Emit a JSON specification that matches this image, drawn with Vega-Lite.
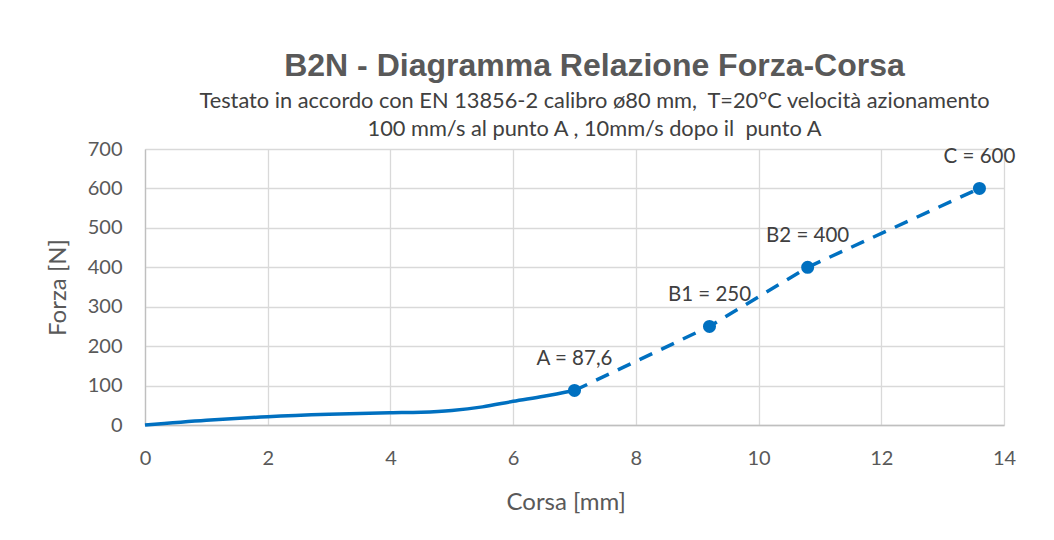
{
  "$schema": "https://vega.github.io/schema/vega-lite/v6.json",
  "autosize": "none",
  "width": 859,
  "height": 276,
  "padding": {"left": 145, "top": 149, "right": 50, "bottom": 115},
  "background": "white",
  "title": {
    "text": "B2N - Diagramma Relazione Forza-Corsa",
    "subtitle": ["Testato in accordo con EN 13856-2 calibro ø80 mm, \u00a0T=20°C velocità azionamento", "100 mm/s al punto A , 10mm/s dopo il \u00a0punto A"],
    "anchor": "middle",
    "dx": 20,
    "offset": -3,
    "font": "Liberation Sans",
    "fontSize": 32,
    "fontWeight": "bold",
    "color": "#595959",
    "subtitleFont": "Lato",
    "subtitleFontSize": 21.8,
    "subtitleColor": "#404040",
    "subtitleLineHeight": 28,
    "subtitlePadding": 8
  },
  "datasets": {
    "curve": [
      {"corsa": 0, "forza": 0},
      {"corsa": 1, "forza": 12},
      {"corsa": 2, "forza": 21},
      {"corsa": 3, "forza": 27},
      {"corsa": 4, "forza": 31},
      {"corsa": 4.5, "forza": 32.5},
      {"corsa": 5, "forza": 37},
      {"corsa": 5.5, "forza": 46},
      {"corsa": 6, "forza": 60},
      {"corsa": 6.5, "forza": 73},
      {"corsa": 7, "forza": 87.6}
    ],
    "points": [
      {"corsa": 7, "forza": 87.6, "label": "A = 87,6"},
      {"corsa": 9.2, "forza": 250, "label": "B1 = 250"},
      {"corsa": 10.8, "forza": 400, "label": "B2 = 400"},
      {"corsa": 13.6, "forza": 600, "label": "C = 600"}
    ]
  },
  "config": {
    "view": {"stroke": null},
    "axis": {
      "labelFont": "Lato",
      "labelFontSize": 20,
      "labelColor": "#595959",
      "labelOverlap": false,
      "labelFlush": false,
      "titleFont": "Lato",
      "titleFontSize": 24,
      "titleFontWeight": "normal",
      "titleColor": "#595959",
      "gridColor": "#d9d9d9",
      "gridWidth": 1.3,
      "domainColor": "#bfbfbf",
      "domainWidth": 1.3,
      "ticks": false
    }
  },
  "encoding": {
    "x": {
      "field": "corsa", "type": "quantitative",
      "scale": {"domain": [0, 14], "nice": false},
      "axis": {"values": [0, 2, 4, 6, 8, 10, 12, 14], "format": "d", "title": "Corsa [mm]", "labelPadding": 23, "titlePadding": 22, "titleAnchor": "start", "titleX": 361}
    },
    "y": {
      "field": "forza", "type": "quantitative",
      "scale": {"domain": [0, 700], "nice": false},
      "axis": {"values": [0, 100, 200, 300, 400, 500, 600, 700], "tickCount": 8, "format": "d", "title": "Forza [N]", "labelPadding": 23, "titlePadding": 17}
    }
  },
  "layer": [
    {
      "data": {"name": "curve"},
      "mark": {"type": "line", "interpolate": "monotone", "color": "#0070C0", "strokeWidth": 3.5}
    },
    {
      "data": {"name": "points"},
      "mark": {"type": "line", "color": "#0070C0", "strokeWidth": 3.5, "strokeDash": [14, 10]}
    },
    {
      "data": {"name": "points"},
      "mark": {"type": "point", "shape": "circle", "filled": true, "opacity": 1, "color": "#0070C0", "size": 170}
    },
    {
      "data": {"name": "points"},
      "mark": {"type": "text", "font": "Lato", "fontSize": 20.5, "color": "#404040", "dy": -31, "align": "center", "baseline": "middle"},
      "encoding": {
        "text": {"field": "label"}
      }
    }
  ]
}
